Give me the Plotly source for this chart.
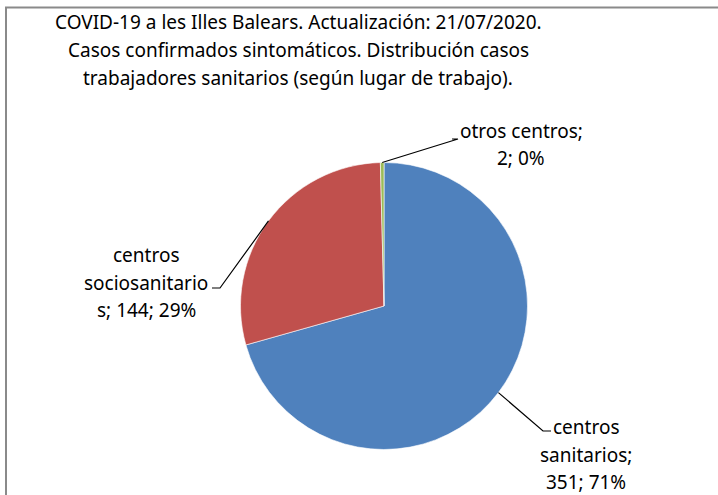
import math
import plotly.graph_objects as go

# ---- data ----
categories = ["centros sanitarios", "centros sociosanitarios", "otros centros"]
values = [351, 144, 2]
colors = ["#4F81BD", "#C0504D", "#9BBB59"]
title_lines = [
    "COVID-19 a les Illes Balears. Actualización: 21/07/2020.",
    "Casos confirmados sintomáticos. Distribución casos",
    "trabajadores sanitarios (según lugar de trabajo).",
]

W, H = 718, 495
FONT = "Noto Sans"
FS = 19
LINE = 27.5

# pie geometry (pixels)
CX, CY, R = 384, 306, 143.5


def px(x):
    return x / W


def py(y):
    return 1 - y / H


def wrap(text, width=14):
    words = text.split(" ")
    lines, cur = [], ""
    for w in words:
        while len(w) > width:
            if cur:
                lines.append(cur)
                cur = ""
            lines.append(w[:width])
            w = w[width:]
        if not cur:
            cur = w
        elif len(cur) + 1 + len(w) <= width:
            cur += " " + w
        else:
            lines.append(cur)
            cur = w
    if cur:
        lines.append(cur)
    return lines


fig = go.Figure(
    go.Pie(
        labels=categories,
        values=values,
        sort=False,
        direction="clockwise",
        rotation=0,
        marker=dict(colors=colors, line=dict(color="white", width=0.6)),
        textinfo="none",
        hoverinfo="label+value+percent",
        showlegend=False,
        domain=dict(x=[px(CX - R), px(CX + R)], y=[py(CY + R), py(CY - R)]),
    )
)

total = sum(values)
# label block placement: (center x, first line y, elbow x, elbow y, text-side x)
label_pos = {
    "centros sanitarios": dict(tx=586, ty=427, ex=543, ey=431, hx=551),
    "centros sociosanitarios": dict(tx=146, ty=255, ex=220, ey=288, hx=212),
    "otros centros": dict(tx=521, ty=131, ex=458, ey=139, hx=452),
}

annotations = []
shapes = []
cum = 0
for name, v in zip(categories, values):
    pct = round(100 * v / total)
    mid = (cum + v / 2) / total * 2 * math.pi
    cum += v
    sx = CX + R * math.sin(mid)
    sy = CY - R * math.cos(mid)
    p = label_pos[name]
    for i, ln in enumerate(wrap(f"{name}; {v}; {pct}%")):
        annotations.append(dict(
            x=px(p["tx"]), y=py(p["ty"] + i * LINE), xref="paper", yref="paper",
            text=ln, showarrow=False, xanchor="center", yanchor="middle",
            font=dict(family=FONT, size=FS, color="black"),
        ))
    shapes.append(dict(
        type="path", xref="paper", yref="paper",
        path=f"M {px(sx)},{py(sy)} L {px(p['ex'])},{py(p['ey'])} L {px(p['hx'])},{py(p['ey'])}",
        line=dict(color="black", width=1.2),
    ))

for i, ln in enumerate(title_lines):
    annotations.append(dict(
        x=px(298), y=py(22 + i * 28), xref="paper", yref="paper",
        text=ln, showarrow=False, xanchor="center", yanchor="middle",
        font=dict(family=FONT, size=FS, color="black"),
    ))

# chart frame (left and top edges visible)
shapes.append(dict(
    type="path", xref="paper", yref="paper",
    path=f"M {px(6)},{py(H + 2)} L {px(6)},{py(7.5)} L {px(W + 2)},{py(7.5)}",
    line=dict(color="#8a8a8a", width=2),
))

fig.update_layout(
    width=W, height=H, autosize=False,
    margin=dict(l=0, r=0, t=0, b=0),
    paper_bgcolor="white", plot_bgcolor="white",
    annotations=annotations, shapes=shapes,
)

fig.write_html(
    "out.html",
    config={"displayModeBar": False},
    post_script="document.body.style.margin='0px';",
)
